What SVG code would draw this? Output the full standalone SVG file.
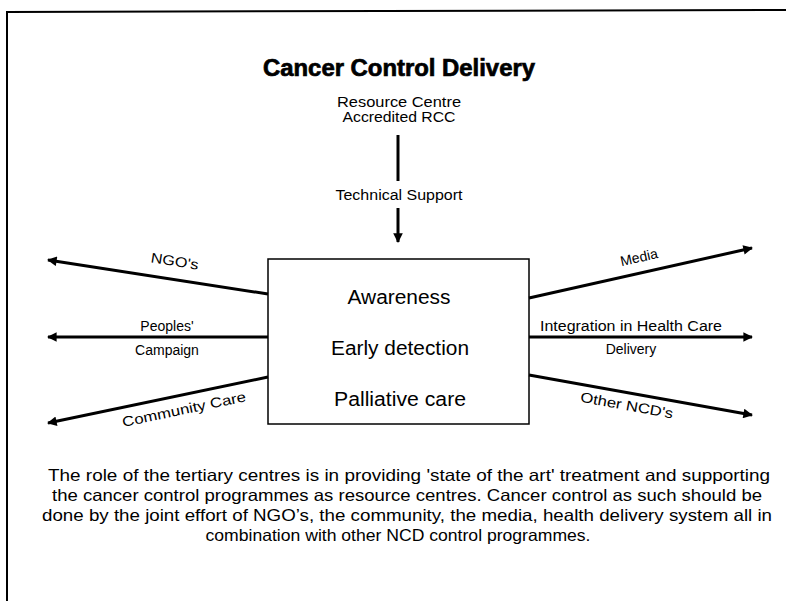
<svg xmlns="http://www.w3.org/2000/svg" width="786" height="601" viewBox="0 0 786 601">
<defs>
<style>
.t{font-family:"Liberation Sans",Arial,sans-serif;fill:#000;text-anchor:middle}
.lbl{font-size:14px}
.box{font-size:19.5px}
.par{font-size:16.5px}
.title{font-size:23px;font-weight:bold;stroke:#000;stroke-width:0.7}
.ln{stroke:#000;stroke-width:3;fill:none}
</style>
<marker id="ah" viewBox="0 0 10 10" refX="9" refY="5" markerWidth="4" markerHeight="3.2" orient="auto" markerUnits="strokeWidth">
<path d="M0,0 L10,5 L0,10 Z" fill="#000"/>
</marker>
</defs>
<rect width="786" height="601" fill="#fff"/>
<g id="frame">
<path d="M7,601 L7,12 L786,10" stroke="#000" stroke-width="2" fill="none"/>
</g>
<g id="title">
<text class="t title" x="399" y="76" textLength="272" lengthAdjust="spacingAndGlyphs">Cancer Control Delivery</text>
</g>
<g id="resource">
<text class="t lbl" x="399" y="107" textLength="124" lengthAdjust="spacingAndGlyphs">Resource Centre</text>
<text class="t lbl" x="399" y="122" textLength="113" lengthAdjust="spacingAndGlyphs">Accredited RCC</text>
</g>
<g id="centre">
<rect x="268" y="259" width="261" height="165" fill="none" stroke="#000" stroke-width="1.5"/>
<text class="t box" x="399" y="304" textLength="103" lengthAdjust="spacingAndGlyphs">Awareness</text>
<text class="t box" x="400" y="355" textLength="138" lengthAdjust="spacingAndGlyphs">Early detection</text>
<text class="t box" x="400" y="406" textLength="132" lengthAdjust="spacingAndGlyphs">Palliative care</text>
</g>
<g id="connectors">
<line class="ln" x1="398" y1="135" x2="398" y2="181"/>
<line class="ln" x1="398" y1="208" x2="398" y2="242" marker-end="url(#ah)"/>
<line class="ln" x1="268" y1="294" x2="48" y2="260" marker-end="url(#ah)"/>
<line class="ln" x1="268" y1="337" x2="48" y2="337" marker-end="url(#ah)"/>
<line class="ln" x1="268" y1="377" x2="48" y2="423" marker-end="url(#ah)"/>
<line class="ln" x1="529" y1="298" x2="752" y2="248" marker-end="url(#ah)"/>
<line class="ln" x1="529" y1="337" x2="752" y2="337" marker-end="url(#ah)"/>
<line class="ln" x1="529" y1="375" x2="752" y2="415" marker-end="url(#ah)"/>
</g>
<g id="labels">
<text class="t lbl" x="399" y="200" textLength="127" lengthAdjust="spacingAndGlyphs">Technical Support</text>
<text class="t lbl" transform="translate(174,266) rotate(8.8)" textLength="48" lengthAdjust="spacingAndGlyphs">NGO's</text>
<text class="t lbl" x="167" y="331">Peoples'</text>
<text class="t lbl" x="167" y="355">Campaign</text>
<text class="t lbl" transform="translate(185,414) rotate(-11.8)" textLength="126" lengthAdjust="spacingAndGlyphs">Community Care</text>
<text class="t lbl" transform="translate(640,262) rotate(-12.5)">Media</text>
<text class="t lbl" x="631" y="331" textLength="182" lengthAdjust="spacingAndGlyphs">Integration in Health Care</text>
<text class="t lbl" x="631" y="354">Delivery</text>
<text class="t lbl" transform="translate(626,410) rotate(10.3)" textLength="94" lengthAdjust="spacingAndGlyphs">Other NCD's</text>
</g>
<g id="caption">
<text class="t par" x="409" y="481" textLength="722" lengthAdjust="spacingAndGlyphs">The role of the tertiary centres is in providing 'state of the art' treatment and supporting</text>
<text class="t par" x="407" y="501" textLength="710" lengthAdjust="spacingAndGlyphs">the cancer control programmes as resource centres. Cancer control as such should be</text>
<text class="t par" x="407" y="521" textLength="730" lengthAdjust="spacingAndGlyphs">done by the joint effort of NGO’s, the community, the media, health delivery system all in</text>
<text class="t par" x="398" y="541" textLength="385" lengthAdjust="spacingAndGlyphs">combination with other NCD control programmes.</text>
</g>
</svg>
